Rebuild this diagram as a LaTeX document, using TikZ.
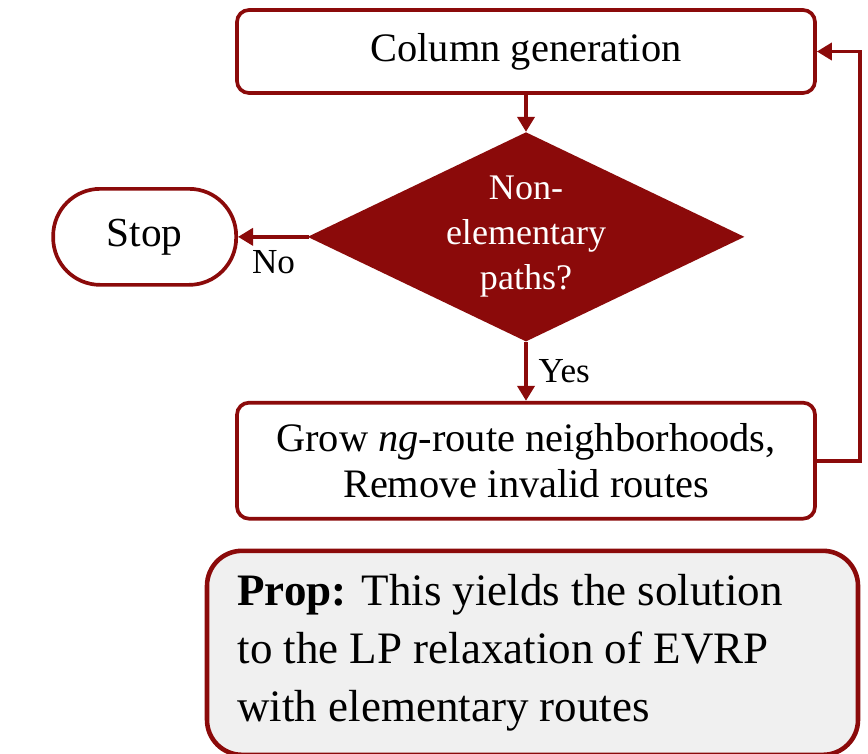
\documentclass[tikz,border=0pt]{standalone}
\usepackage{fontspec}
\setmainfont{Liberation Serif}
\usepackage{tikz}
\usetikzlibrary{arrows.meta,positioning,shapes.geometric}
\definecolor{cRed}{HTML}{8B0A0A}
\definecolor{cProp}{HTML}{F0F0F0}
\tikzset{
  box/.style={rounded corners=0.24cm, draw=cRed, line width=2.1pt, fill=white,
              text=black, align=center, inner sep=0pt,
              font=\fontsize{23}{26.2}\selectfont, minimum width=11.56cm},
  decide/.style={diamond, draw=cRed, fill=cRed, line width=1.7pt, text=white,
                 align=center, inner sep=0pt, aspect=2.08,
                 font=\fontsize{20.5}{25.6}\selectfont,
                 minimum width=8.62cm, minimum height=4.14cm},
  term/.style={rounded corners=0.94cm, draw=cRed, line width=2.1pt, fill=white,
               font=\fontsize{23.5}{26.2}\selectfont,
               minimum width=3.66cm, minimum height=1.92cm},
  propbox/.style={rounded corners=0.7cm, draw=cRed, line width=2.6pt, fill=cProp,
                  align=flush left, text width=11.8cm, inner xsep=0.6cm, inner ysep=0pt,
                  font=\fontsize{25.6}{33}\selectfont,
                  minimum width=13.02cm, minimum height=4.08cm},
  flow/.style={-{Triangle[length=0.3cm,width=0.34cm]}, line width=2.1pt, draw=cRed},
  lbl/.style={font=\fontsize{20}{24}\selectfont, text=black},
}
\begin{document}
\begin{tikzpicture}
\useasboundingbox (0,0) rectangle (17.36,-15.06);
\node[box, minimum height=1.66cm] (colgen) at (10.52,-1.03) {Column generation};
\node[decide, below=0.74cm of colgen] (check) {Non-\\elementary\\paths?};
\node[term, left=1.42cm of check] (stop) {Stop};
\node[box, minimum height=2.32cm, below=1.18cm of check] (grow)
  {Grow \textit{ng}-route neighborhoods,\\Remove invalid routes};
\node[propbox, below=0.56cm of grow, xshift=0.13cm] (prop)
  {\textbf{Prop:} This yields the solution\\to the LP relaxation of EVRP\\with elementary routes};
\draw[flow] (colgen)--(check);
\draw[flow] (check.west)--(stop.east) node[midway,below,lbl,yshift=-0.12cm]{No};
\draw[flow] (check.south)--(grow.north) node[midway,right,lbl,xshift=0.1cm]{Yes};
\draw[flow] (grow.east)--++(0.86,0) |- (colgen.east);
\end{tikzpicture}
\end{document}
